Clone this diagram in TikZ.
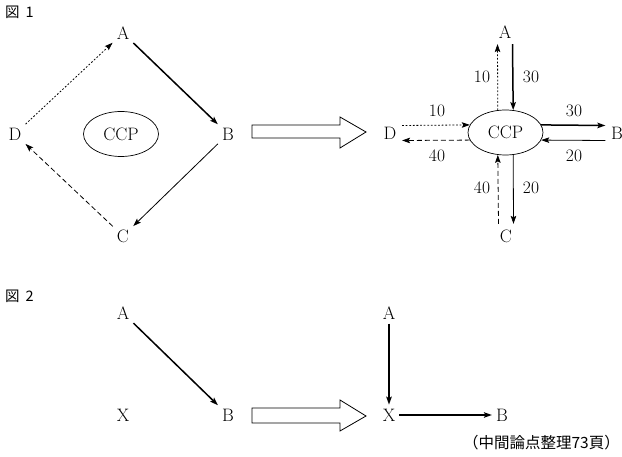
\documentclass[tikz,border=0pt]{standalone}
\usepackage{fontspec}
\newfontfamily\jpfont{Noto Sans CJK JP}
\usetikzlibrary{arrows.meta,shapes.geometric}
\begin{document}
\begin{tikzpicture}[x=1pt,y=-1pt,
  lbl/.style={font=\fontsize{18}{21}\selectfont, inner sep=4pt},
  lbr/.style={font=\fontsize{18}{21}\selectfont, inner sep=5.5pt},
  num/.style={font=\fontsize{17.5}{20}\selectfont, inner sep=0pt},
  ccp/.style={draw, ellipse, minimum width=75pt, minimum height=45pt, inner sep=0pt, line width=0.7pt, font=\fontsize{18}{21}\selectfont},
  tip/.style={-{Stealth[length=8pt,width=5.5pt,inset=1.5pt]}},
  thickarr/.style={tip, line width=1.5pt},
  thinarr/.style={tip, line width=0.8pt},
  dotarr/.style={tip, line width=0.8pt, dash pattern=on 1.8pt off 1.8pt},
  dasharr/.style={tip, line width=0.8pt, dash pattern=on 5pt off 3pt},
  hollow/.style={draw, line width=0.8pt, fill=white},
  fig/.style={font=\jpfont\fontsize{14.5}{16}\selectfont, anchor=west, inner sep=0pt}
]
\useasboundingbox (0,0) rectangle (622,457);

% titles
\node[fig] (t1) at (5,12) {図\hspace{6pt}1};
\node[fig] (t2) at (5,296) {図\hspace{6pt}2};

% ---- Figure 1 left
\node[lbl] (A1) at (123,33) {A};
\node[lbl] (B1) at (228,134) {B};
\node[lbl] (C1) at (123,236) {C};
\node[lbl] (D1) at (15,134) {D};
\node[ccp] (P1) at (121,134) {CCP};
\draw[thickarr] (A1) -- (B1);
\draw[thinarr] (B1) -- (C1);
\draw[dasharr] (C1) -- (D1);
\draw[dotarr] (D1) -- (A1);

% hollow arrow 1
\draw[hollow] (252,125) -- (340,125) -- (340,117) -- (366,132) -- (340,148) -- (340,138) -- (252,138) -- cycle;

% ---- Figure 1 right
\node[lbr] (A2) at (505,32) {A};
\node[lbr] (B2) at (617,133) {B};
\node[lbr] (C2) at (506,236) {C};
\node[lbr] (D2) at (390,133) {D};
\node[ccp] (P2) at (505.5,132.5) {CCP};

\draw[dotarr] (P2.109) -- ([xshift=-7.5pt]A2.south);
\draw[thickarr] ([xshift=7.5pt]A2.south) -- (P2.71);
\draw[thickarr] (P2.12) -- ([yshift=7.5pt]B2.west);
\draw[thinarr] ([yshift=-7.5pt]B2.west) -- (P2.-12);
\draw[dotarr] ([yshift=7.5pt]D2.east) -- (P2.168);
\draw[dasharr] (P2.192) -- ([yshift=-7.5pt]D2.east);
\draw[dasharr] ([xshift=-7.5pt]C2.north) -- (P2.-109);
\draw[thinarr] (P2.-71) -- ([xshift=7.5pt]C2.north);

\node[num] (n1) at (482,77) {10};
\node[num] (n2) at (531,77) {30};
\node[num] (n3) at (437,111) {10};
\node[num] (n4) at (574,111) {30};
\node[num] (n5) at (437,156) {40};
\node[num] (n6) at (574,156) {20};
\node[num] (n7) at (482,188) {40};
\node[num] (n8) at (531,188) {20};

% ---- Figure 2 left
\node[lbl] (A3) at (123,313) {A};
\node[lbl] (X3) at (123,415) {X};
\node[lbl] (B3) at (228,415) {B};
\draw[thickarr] (A3) -- (B3);

% hollow arrow 2
\draw[hollow] (252,408) -- (340,408) -- (340,400) -- (366,416) -- (340,431) -- (340,423) -- (252,423) -- cycle;

% ---- Figure 2 right
\node[lbl] (A4) at (389,313) {A};
\node[lbl] (X4) at (389,415) {X};
\node[lbl] (B4) at (502,415) {B};
\draw[thickarr] (A4) -- (X4);
\draw[thinarr, line width=1.2pt] (X4) -- (B4);

\node[font=\jpfont\fontsize{15.5}{17}\selectfont, anchor=east, inner sep=0pt] (cap) at (620,443) {（中間論点整理73頁）};
\end{tikzpicture}
\end{document}
